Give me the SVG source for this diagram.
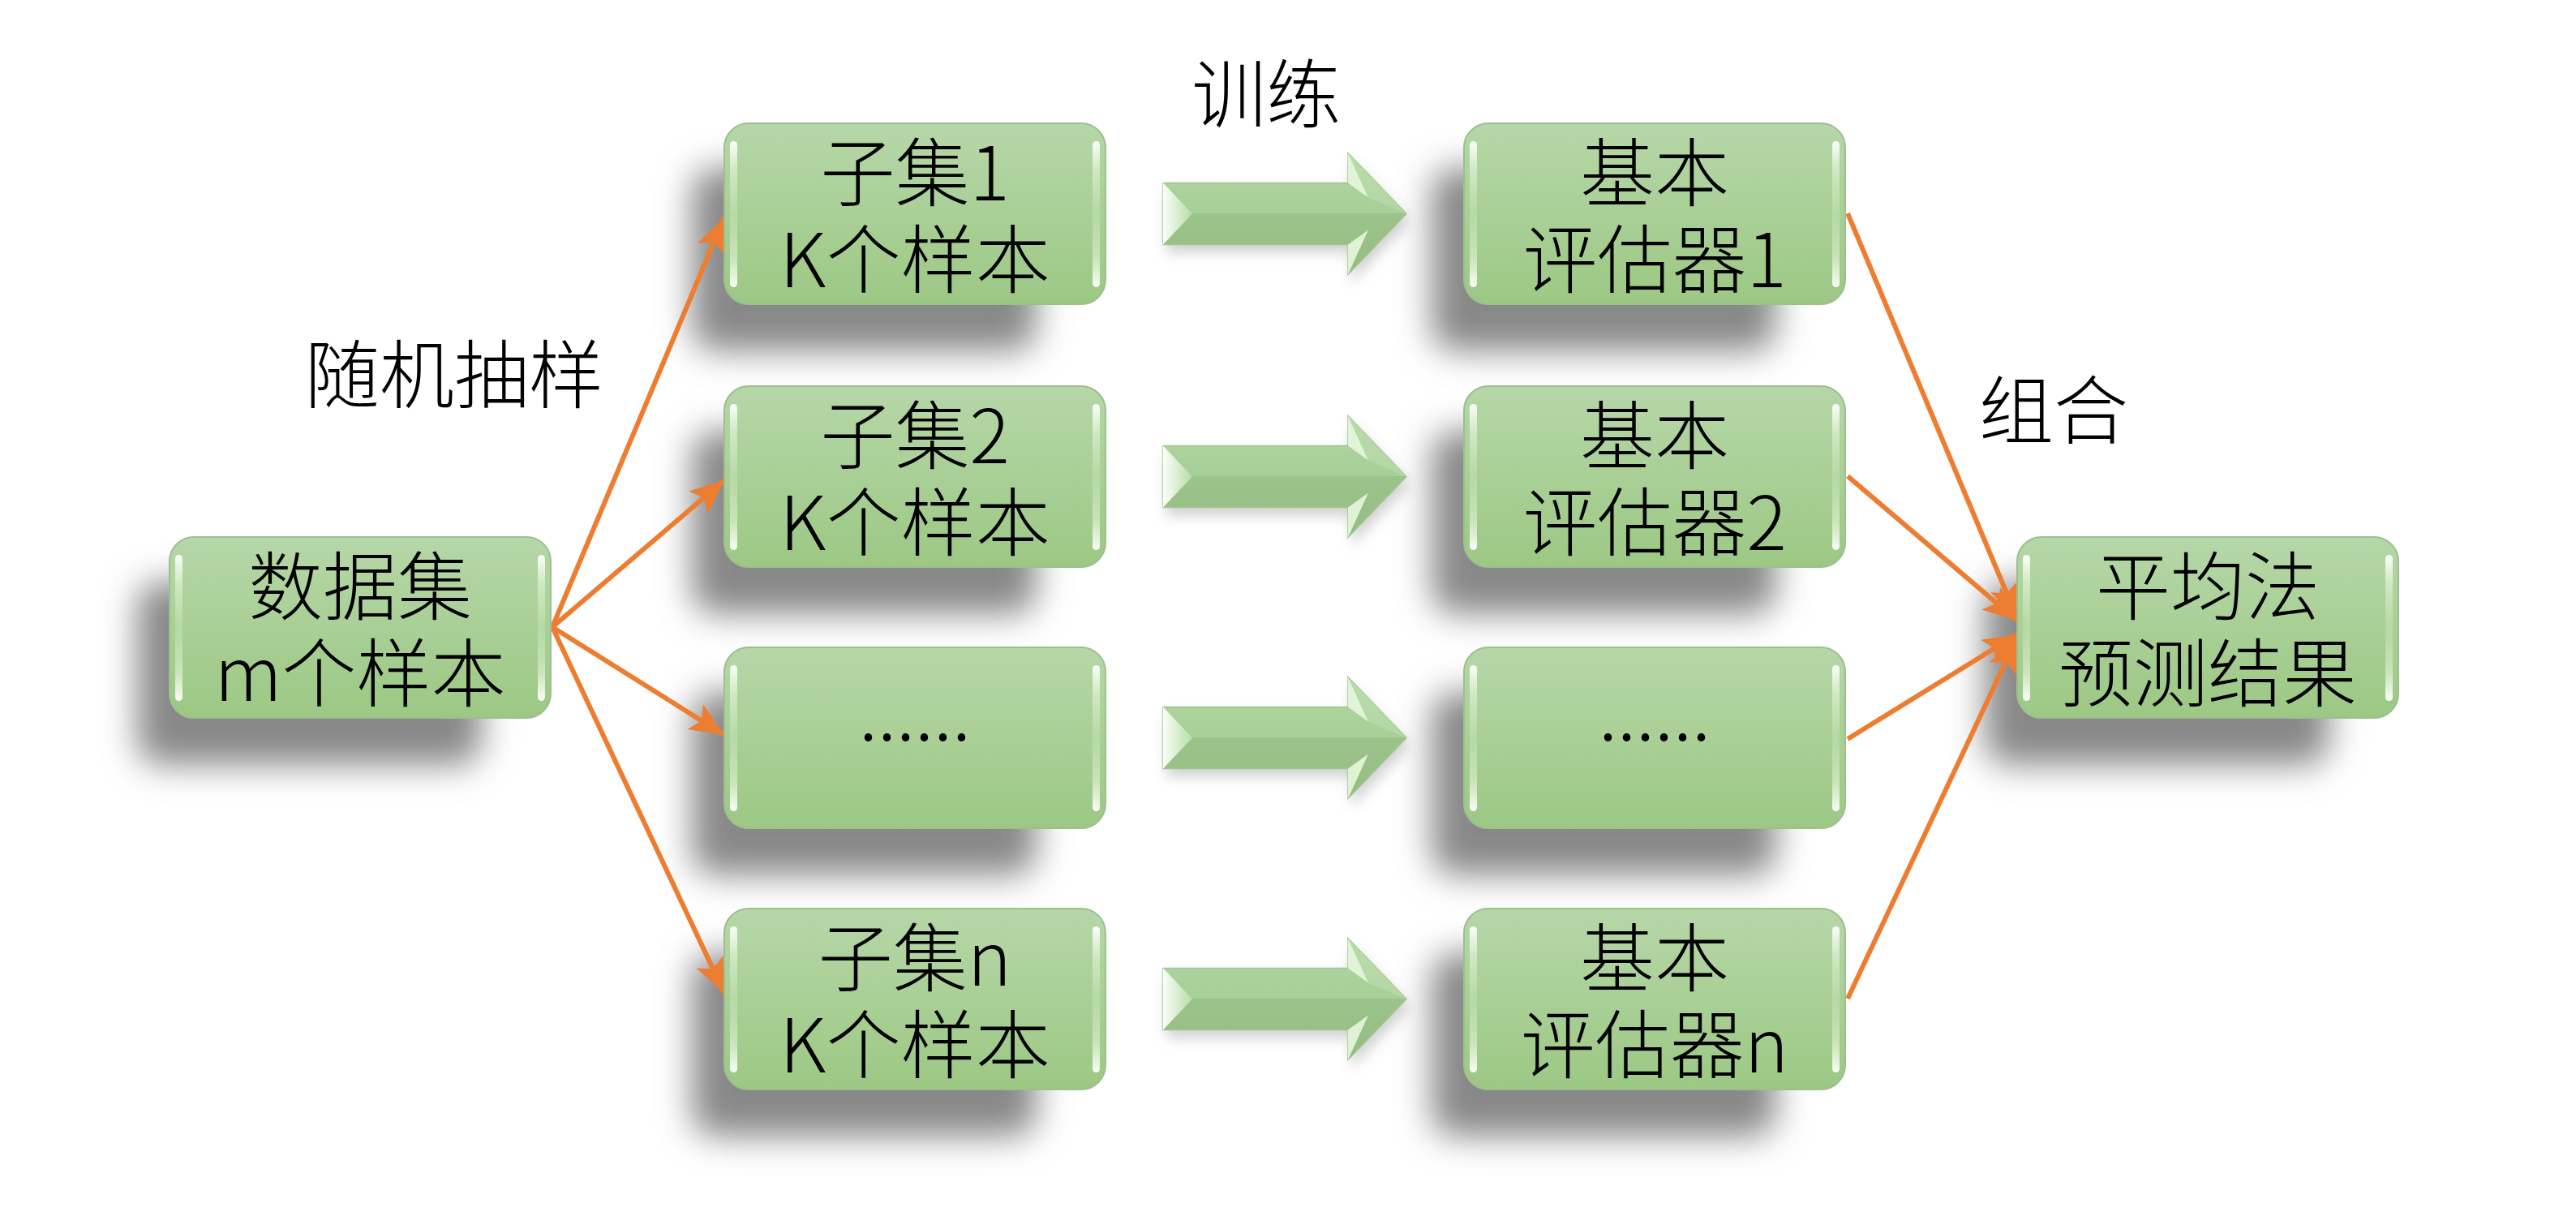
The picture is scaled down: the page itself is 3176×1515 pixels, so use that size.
<svg xmlns="http://www.w3.org/2000/svg" width="3176" height="1515" viewBox="0 0 3176 1515">
<defs>
<style>
.t{font-family:"Noto Sans CJK SC","Noto Sans",sans-serif;font-size:92px;font-weight:300;fill:#000;text-anchor:middle}
.lbl{font-family:"Noto Sans CJK SC","Noto Sans",sans-serif;font-size:92px;font-weight:300;fill:#000}
.box{fill:url(#gBox);stroke:#9DBF8F;stroke-width:2}
.sh{fill:#888888;filter:url(#blur)}
.hl{fill:url(#gHl)}
.conn{stroke:#ED7D31;stroke-width:6;fill:none;marker-end:url(#ah)}
.arrBody{fill:url(#gArr)}
.bevL{fill:url(#gBev)}
.bevH{fill:#E6F8DD;opacity:0.9}
</style>
<linearGradient id="gBox" x1="0" y1="0" x2="0" y2="1">
<stop offset="0" stop-color="#B6D7A8"/>
<stop offset="1" stop-color="#9CC884"/>
</linearGradient>
<linearGradient id="gHl" x1="0" y1="0" x2="0" y2="1">
<stop offset="0" stop-color="#FFFFFF" stop-opacity="0.95"/>
<stop offset="0.2" stop-color="#EFFFE6" stop-opacity="0.5"/>
<stop offset="0.5" stop-color="#DFF6D2" stop-opacity="0.25"/>
<stop offset="0.8" stop-color="#EFFFE6" stop-opacity="0.5"/>
<stop offset="1" stop-color="#FFFFFF" stop-opacity="0.95"/>
</linearGradient>
<linearGradient id="gArr" x1="0" y1="0" x2="0" y2="1">
<stop offset="0" stop-color="#B2D6A3"/>
<stop offset="0.5" stop-color="#A8CF98"/>
<stop offset="0.5" stop-color="#9CC48A"/>
<stop offset="1" stop-color="#94BC83"/>
</linearGradient>
<linearGradient id="gBev" x1="0" y1="0" x2="1" y2="0">
<stop offset="0" stop-color="#FAFFF7"/>
<stop offset="1" stop-color="#B9DCAA"/>
</linearGradient>
<filter id="blur" x="-30%" y="-40%" width="160%" height="180%">
<feGaussianBlur stdDeviation="21"/>
</filter>
<filter id="blurS" x="-20%" y="-50%" width="140%" height="200%">
<feGaussianBlur stdDeviation="8"/>
</filter>
<marker id="ah" markerUnits="userSpaceOnUse" markerWidth="46" markerHeight="40" refX="42" refY="18" orient="auto">
<path d="M0,0 L42,18 L0,36 L9,18 Z" fill="#ED7D31"/>
</marker>
<rect id="shadowShape" class="sh" x="-40" y="55" width="425" height="226" rx="30"/>
<g id="boxShape">
<rect class="box" x="0" y="0" width="470" height="223" rx="30"/>
<rect class="hl" x="7" y="22" width="9" height="180" rx="4.5"/>
<rect class="hl" x="454" y="22" width="9" height="180" rx="4.5"/>
</g>
<g id="blockArrow">
<polygon points="0,-38 228,-38 228,-75 300,0 228,75 228,38 0,38" fill="#7d7d7d" opacity="0.35" transform="translate(4,10)" filter="url(#blurS)"/>
<polygon class="arrBody" points="0,-38 228,-38 228,-75 300,0 228,75 228,38 0,38" stroke="#A2C693" stroke-width="1.5"/>
<polygon class="bevL" points="0,-38 36,0 0,38"/>
<polygon class="bevH" points="228,-75 253,-20 228,-38"/>
<polygon class="bevH" points="228,75 253,20 228,38"/>
<polygon fill="#BCDDAE" opacity="0.6" points="228,-75 300,0 253,-20"/>
</g>
</defs>

<g id="shadows">
<use href="#shadowShape" x="209" y="662"/>
<use href="#shadowShape" x="893" y="152"/>
<use href="#shadowShape" x="893" y="476"/>
<use href="#shadowShape" x="893" y="798"/>
<use href="#shadowShape" x="893" y="1120"/>
<use href="#shadowShape" x="1805" y="152"/>
<use href="#shadowShape" x="1805" y="476"/>
<use href="#shadowShape" x="1805" y="798"/>
<use href="#shadowShape" x="1805" y="1120"/>
<use href="#shadowShape" x="2487" y="662"/>
</g>

<g id="connectors">
<line class="conn" x1="681" y1="773" x2="893" y2="268"/>
<line class="conn" x1="681" y1="773" x2="893" y2="592"/>
<line class="conn" x1="681" y1="773" x2="893" y2="906"/>
<line class="conn" x1="681" y1="773" x2="893" y2="1224"/>
<line class="conn" x1="2278" y1="263" x2="2487" y2="762"/>
<line class="conn" x1="2278" y1="587" x2="2487" y2="765"/>
<line class="conn" x1="2278" y1="911" x2="2487" y2="782"/>
<line class="conn" x1="2278" y1="1231" x2="2487" y2="786"/>
</g>

<g id="trainArrows">
<use href="#blockArrow" x="1434" y="263.5"/>
<use href="#blockArrow" x="1434" y="587.5"/>
<use href="#blockArrow" x="1434" y="909.5"/>
<use href="#blockArrow" x="1434" y="1231.5"/>
</g>

<g id="dataset">
<use href="#boxShape" x="209" y="662"/>
<text class="t" x="444" y="757">数据集</text>
<text class="t" x="444" y="864">m个样本</text>
</g>

<g id="subset1">
<use href="#boxShape" x="893" y="152"/>
<text class="t" x="1128" y="247">子集1</text>
<text class="t" x="1128" y="354">K个样本</text>
</g>
<g id="subset2">
<use href="#boxShape" x="893" y="476"/>
<text class="t" x="1128" y="571">子集2</text>
<text class="t" x="1128" y="678">K个样本</text>
</g>
<g id="subset3">
<use href="#boxShape" x="893" y="798"/>
<text class="t" x="1128" y="913">......</text>
</g>
<g id="subsetn">
<use href="#boxShape" x="893" y="1120"/>
<text class="t" x="1128" y="1215">子集n</text>
<text class="t" x="1128" y="1322">K个样本</text>
</g>

<g id="est1">
<use href="#boxShape" x="1805" y="152"/>
<text class="t" x="2040" y="247">基本</text>
<text class="t" x="2040" y="354">评估器1</text>
</g>
<g id="est2">
<use href="#boxShape" x="1805" y="476"/>
<text class="t" x="2040" y="571">基本</text>
<text class="t" x="2040" y="678">评估器2</text>
</g>
<g id="est3">
<use href="#boxShape" x="1805" y="798"/>
<text class="t" x="2040" y="913">......</text>
</g>
<g id="estn">
<use href="#boxShape" x="1805" y="1120"/>
<text class="t" x="2040" y="1215">基本</text>
<text class="t" x="2040" y="1322">评估器n</text>
</g>

<g id="result">
<use href="#boxShape" x="2487" y="662"/>
<text class="t" x="2722" y="757">平均法</text>
<text class="t" x="2722" y="864">预测结果</text>
</g>

<g id="labels">
<text class="lbl" x="376" y="496">随机抽样</text>
<text class="lbl" x="1469" y="150">训练</text>
<text class="lbl" x="2440" y="540">组合</text>
</g>
</svg>
